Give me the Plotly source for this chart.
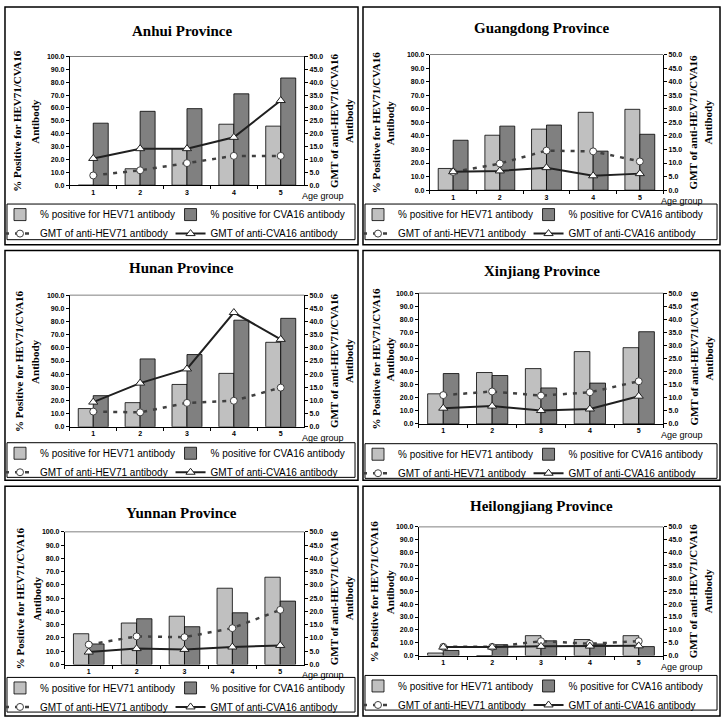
import plotly.graph_objects as go

# ---------------- data ----------------
age_groups = ["1", "2", "3", "4", "5"]
provinces = ["Anhui Province", "Guangdong Province", "Hunan Province",
             "Xinjiang Province", "Yunnan Province", "Heilongjiang Province"]

# % positive for HEV71 antibody (per province, age groups 1-5)
pos_hev71 = [
    [0.0, 12.8, 28.5, 47.4, 45.9],    # Anhui
    [16.0, 40.5, 45.0, 57.4, 59.6],   # Guangdong
    [13.9, 18.4, 32.2, 40.6, 64.2],   # Hunan
    [23.0, 39.3, 42.3, 55.3, 58.3],   # Xinjiang
    [23.2, 31.3, 36.4, 57.5, 65.8],   # Yunnan
    [2.0, 0.0, 15.5, 12.5, 15.5],     # Heilongjiang
]
# % positive for CVA16 antibody
pos_cva16 = [
    [48.2, 57.4, 59.5, 71.0, 83.3],
    [36.8, 47.2, 48.0, 28.8, 41.2],
    [23.7, 51.6, 54.9, 81.0, 82.4],
    [38.5, 37.0, 27.5, 31.2, 70.5],
    [15.5, 34.5, 28.5, 39.0, 47.8],
    [4.0, 8.5, 11.5, 9.0, 7.0],
]
# GMT of anti-HEV71 antibody
gmt_hev71 = [
    [3.8, 5.8, 8.6, 11.4, 11.4],
    [6.7, 9.8, 14.6, 14.3, 10.6],
    [5.8, 5.5, 9.1, 9.9, 14.9],
    [11.0, 12.4, 10.8, 12.1, 16.3],
    [7.5, 10.6, 10.3, 13.7, 20.6],
    [3.4, 3.4, 5.6, 4.6, 5.6],
]
# GMT of anti-CVA16 antibody
gmt_cva16 = [
    [10.4, 14.2, 14.2, 18.6, 32.9],
    [6.8, 7.1, 8.3, 5.3, 6.1],
    [9.4, 16.6, 22.0, 43.4, 33.2],
    [6.0, 6.8, 5.1, 5.7, 10.6],
    [4.7, 6.0, 5.7, 6.6, 7.2],
    [3.3, 3.3, 3.6, 3.7, 3.8],
]

series_names = ["% positive for HEV71 antibody", "% positive for CVA16 antibody",
                "GMT of anti-HEV71 antibody", "GMT of anti-CVA16 antibody"]

# ---------------- layout geometry (pixels) ----------------
W, H = 723, 722
# box(l,t,r,b), plot(l,t,r,b), title_y, legend box (t,b), left title x (2 lines), right title x (2 lines)
panels = [
    dict(box=(3, 3, 357, 243), plot=(68, 53, 303, 183), ty=27, leg=(202, 238), lt=(15, 33), rt=(333, 348)),
    dict(box=(362, 3, 720, 243), plot=(429, 51, 663, 188), ty=24, leg=(202, 238), lt=(375, 389), rt=(693, 708)),
    dict(box=(3, 249, 357, 481), plot=(68, 294, 303, 427), ty=267, leg=(443, 478), lt=(17, 33), rt=(333, 348)),
    dict(box=(362, 249, 720, 481), plot=(418, 292, 663, 424), ty=270, leg=(444, 479), lt=(375, 389), rt=(693, 708)),
    dict(box=(3, 487, 357, 719), plot=(63, 533, 303, 667), ty=514, leg=(680, 715), lt=(18, 35), rt=(333, 348)),
    dict(box=(362, 487, 720, 719), plot=(418, 528, 663, 658), ty=507, leg=(678, 713), lt=(373, 389), rt=(693, 708)),
]

def fx(px):
    return px / W

def fy(py):
    return 1 - py / H

fig = go.Figure()
shapes = []
annotations = []
layout = dict(
    width=W, height=H, margin=dict(l=0, r=0, t=0, b=0),
    paper_bgcolor="white", plot_bgcolor="white",
    barmode="group", bargap=0.36, bargroupgap=0.0,
    showlegend=True,
)

tickfont = dict(family="Arial", size=7, color="black", weight="bold")
serif_bold = dict(family="Liberation Serif, Times New Roman, serif", color="black", weight="bold")

for k, p in enumerate(panels):
    xid = "x" if k == 0 else f"x{k+1}"
    yl = f"y{2*k+1}" if k > 0 else "y"
    yr = f"y{2*k+2}"
    xkey = "xaxis" if k == 0 else f"xaxis{k+1}"
    ylkey = "yaxis" if k == 0 else f"yaxis{2*k+1}"
    yrkey = f"yaxis{2*k+2}"
    pl, pt, pr, pb = p["plot"]
    leg1 = "legend" if k == 0 else f"legend{2*k+1}"
    leg2 = f"legend{2*k+2}"

    fig.add_trace(go.Bar(x=age_groups, y=pos_hev71[k], name=series_names[0],
                         marker=dict(color="#c0c0c0", line=dict(color="black", width=0.8)),
                         xaxis=xid, yaxis=yl, legend=leg1, legendrank=1))
    fig.add_trace(go.Bar(x=age_groups, y=pos_cva16[k], name=series_names[1],
                         marker=dict(color="#808080", line=dict(color="black", width=0.8)),
                         xaxis=xid, yaxis=yl, legend=leg2, legendrank=1))
    fig.add_trace(go.Scatter(x=age_groups, y=gmt_hev71[k], name=series_names[2],
                             mode="lines+markers",
                             line=dict(color="#404040", width=2.5, dash="4px,6px"),
                             marker=dict(symbol="circle", size=7, color="white",
                                         line=dict(color="#404040", width=1)),
                             xaxis=xid, yaxis=yr, legend=leg1, legendrank=2))
    fig.add_trace(go.Scatter(x=age_groups, y=gmt_cva16[k], name=series_names[3],
                             mode="lines+markers",
                             line=dict(color="#202020", width=2),
                             marker=dict(symbol="triangle-up", size=8, color="white",
                                         line=dict(color="#202020", width=1)),
                             xaxis=xid, yaxis=yr, legend=leg2, legendrank=2))

    layout[xkey] = dict(domain=[fx(pl), fx(pr)], anchor=yl, type="category",
                        range=[-0.5, 4.5], showline=True, linecolor="black", linewidth=1,
                        ticks="outside", ticklen=3, tickson="boundaries", tickcolor="black",
                        tickfont=tickfont, showgrid=False, zeroline=False, fixedrange=True)
    layout[ylkey] = dict(domain=[fy(pb), fy(pt)], anchor=xid, range=[0, 100], dtick=10,
                         tickformat=".1f", showline=True, linecolor="black", linewidth=1,
                         ticks="outside", ticklen=3, tickcolor="black", tickfont=tickfont,
                         showgrid=False, zeroline=False, fixedrange=True)
    layout[yrkey] = dict(domain=[fy(pb), fy(pt)], anchor=xid, overlaying=yl, side="right",
                         range=[0, 50], dtick=5, tickformat=".1f", showline=True,
                         linecolor="black", linewidth=1, ticks="outside", ticklen=3,
                         tickcolor="black", tickfont=tickfont, showgrid=False,
                         zeroline=False, fixedrange=True)

    bl, bt, br, bb = p["box"]
    lt, lb = p["leg"]
    for lk, lx in ((leg1, bl - 5), (leg2, bl + 166)):
        layout[lk] = dict(x=fx(lx), y=fy(lt - 4), xanchor="left", yanchor="top",
                          orientation="v", bgcolor="rgba(0,0,0,0)", borderwidth=0,
                          font=dict(family="Arial", size=10, color="black"),
                          itemwidth=30, tracegroupgap=0, traceorder="normal")

    # panel frame and legend frame
    shapes.append(dict(type="rect", xref="paper", yref="paper", x0=fx(bl), x1=fx(br),
                       y0=fy(bb), y1=fy(bt), line=dict(color="black", width=1.5)))
    shapes.append(dict(type="rect", xref="paper", yref="paper", x0=fx(bl + 2), x1=fx(br - 3),
                       y0=fy(lb), y1=fy(lt), line=dict(color="black", width=1)))
    # top border of the plot area
    shapes.append(dict(type="line", xref="paper", yref="paper", x0=fx(pl), x1=fx(pr),
                       y0=fy(pt), y1=fy(pt), line=dict(color="#808080", width=1)))

    # title
    annotations.append(dict(text=provinces[k], x=fx((bl + br) / 2), y=fy(p["ty"]),
                            xref="paper", yref="paper", showarrow=False,
                            xanchor="center", yanchor="middle",
                            font=dict(size=15, **serif_bold)))
    cy = fy((pt + pb) / 2)
    for txt, xx in (("% Positive for HEV71/CVA16", p["lt"][0]), ("Antibody", p["lt"][1]),
                    ("GMT of anti-HEV71/CVA16", p["rt"][0]), ("Antibody", p["rt"][1])):
        annotations.append(dict(text=txt, x=fx(xx), y=cy, xref="paper", yref="paper",
                                showarrow=False, textangle=-90, xanchor="center",
                                yanchor="middle", font=dict(size=11, **serif_bold)))
    annotations.append(dict(text="Age group", x=fx(pr - 4), y=fy(pb + 11), xref="paper",
                            yref="paper", showarrow=False, xanchor="left", yanchor="middle",
                            font=dict(family="Arial", size=9, color="black")))

layout["shapes"] = shapes
layout["annotations"] = annotations
fig.update_layout(**layout)

# remove the browser's default 8px page margin so the 723x722 figure fills the window
fig.write_html("out.html",
               config={"displayModeBar": False},
               post_script="document.body.style.margin='0';document.body.style.overflow='hidden';")
